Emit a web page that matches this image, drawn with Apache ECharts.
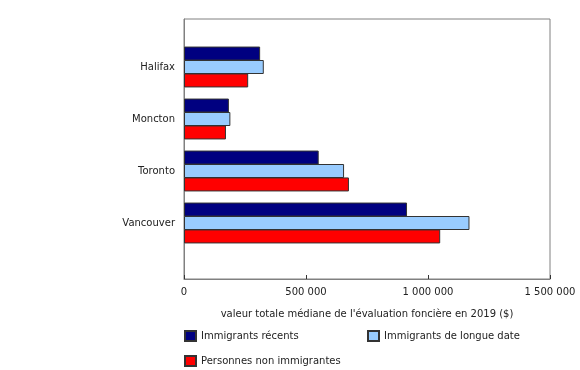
<!DOCTYPE html>
<html>
<head>
<meta charset="utf-8">
<script src="https://cdn.jsdelivr.net/npm/echarts@6/dist/echarts.min.js"></script>
<style>
  html, body { margin: 0; padding: 0; background: #fff; }
  #chart { width: 580px; height: 370px; }
</style>
</head>
<body>
<div id="chart"></div>
<script>
var cities = ['Halifax', 'Moncton', 'Toronto', 'Vancouver'];
var recentImmigrants = [312000, 184000, 552000, 914000];
var longTermImmigrants = [327000, 190000, 656000, 1170000];
var nonImmigrants = [263000, 172000, 676000, 1050000];
var seriesNames = ['Immigrants récents', 'Immigrants de longue date', 'Personnes non immigrantes'];
var xTicks = [0, 500000, 1000000, 1500000];

var chart = echarts.init(document.getElementById('chart'));
var font = 'DejaVu Sans, Verdana, sans-serif';

function fmt(v) {
    return String(v).replace(/\B(?=(\d{3})+(?!\d))/g, ' ');
}

function barSeries(name, data, color) {
    return {
        name: name,
        type: 'bar',
        xAxisIndex: 1,
        yAxisIndex: 1,
        barWidth: 14,
        barGap: '-4%',
        data: data,
        itemStyle: { color: color, borderColor: '#333', borderWidth: 1 }
    };
}

// one legend per item so the two-column layout matches
function legendItem(name, left, top) {
    return {
        data: [name],
        left: left, top: top,
        icon: 'rect',
        itemWidth: 11, itemHeight: 10,
        textStyle: { fontSize: 10, color: '#222', fontFamily: font }
    };
}

chart.setOption({
    animation: false,
    textStyle: { fontFamily: font },
    legend: [
        legendItem(seriesNames[0], 179, 325),
        legendItem(seriesNames[1], 362, 325),
        legendItem(seriesNames[2], 179, 350)
    ],
    grid: [
        { left: 184, top: 19, width: 366, height: 260, show: true, borderColor: '#808080', borderWidth: 1 },
        { left: 184, top: 41, width: 366, height: 208 }
    ],
    xAxis: [
        {
            gridIndex: 0, type: 'value', min: xTicks[0], max: xTicks[xTicks.length - 1], interval: xTicks[1] - xTicks[0],
            name: "valeur totale médiane de l'évaluation foncière en 2019 ($)",
            nameLocation: 'middle', nameGap: 30,
            nameTextStyle: { fontSize: 10, color: '#222', fontFamily: font },
            axisLine: { show: true, lineStyle: { color: '#808080', width: 1 } },
            axisTick: { show: true, inside: true, length: 4, lineStyle: { color: '#333' } },
            axisLabel: { fontSize: 10, color: '#222', margin: 8, formatter: fmt },
            splitLine: { show: false }
        },
        {
            gridIndex: 1, type: 'value', min: xTicks[0], max: xTicks[xTicks.length - 1], show: false
        }
    ],
    yAxis: [
        {
            gridIndex: 0, type: 'value', min: 0, max: 1,
            axisLine: { show: true, lineStyle: { color: '#808080', width: 1 } },
            axisTick: { show: false }, axisLabel: { show: false }, splitLine: { show: false }
        },
        {
            gridIndex: 1, type: 'category', inverse: true, data: cities,
            axisLine: { show: false }, axisTick: { show: false },
            axisLabel: { fontSize: 10, color: '#222', margin: 9 }
        }
    ],
    series: [
        barSeries(seriesNames[0], recentImmigrants, '#000080'),
        barSeries(seriesNames[1], longTermImmigrants, '#99CCFF'),
        barSeries(seriesNames[2], nonImmigrants, '#FF0000')
    ]
});
</script>
</body>
</html>
